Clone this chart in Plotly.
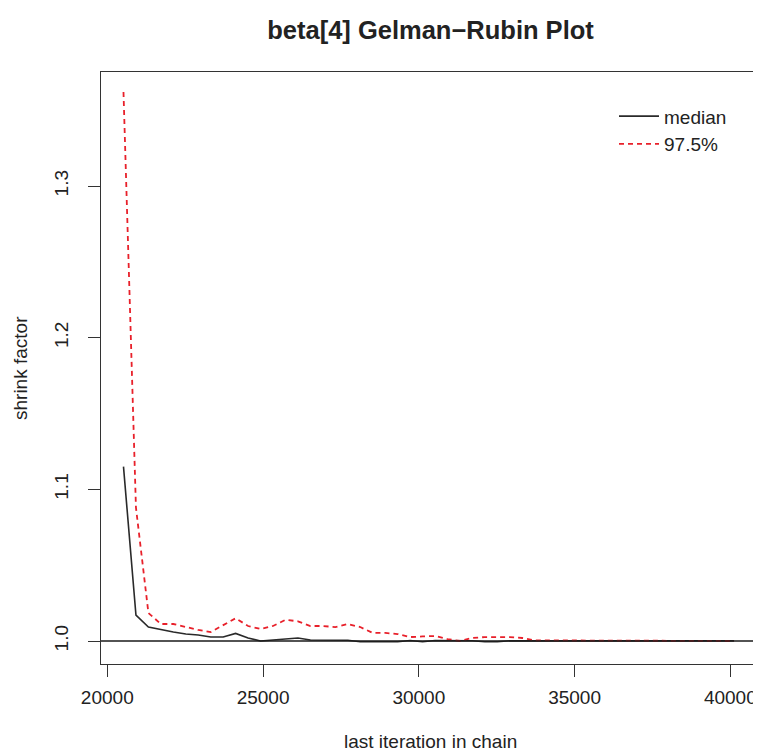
import plotly.graph_objects as go

# last iteration in chain (bin end points)
last_iter = [20520, 20920, 21320, 21720, 22120, 22520, 22920, 23320, 23720, 24120,
             24520, 24920, 25320, 25720, 26120, 26520, 26920, 27320, 27720, 28120,
             28520, 28920, 29320, 29720, 30120, 30520, 30920, 31320, 31720, 32120,
             32520, 32920, 33320, 33720, 34120, 34520, 34920, 35320, 35720, 36120,
             36520, 36920, 37320, 37720, 38120, 38520, 38920, 39320, 39720, 40120]

median_sf = [1.115, 1.0171, 1.0092, 1.0073, 1.0059, 1.0046, 1.0040, 1.0026, 1.0026, 1.0050,
             1.0020, 1.0000, 1.0007, 1.0013, 1.0020, 1.0007, 1.0007, 1.0007, 1.0005, 0.9995,
             0.9995, 0.9995, 0.9995, 1.0003, 0.9995, 1.0003, 1.0002, 1.0002, 1.0002, 0.9995,
             0.9995, 1.0002, 1.0001, 1.0001, 1.0001, 1.0001, 1.0001, 1.0001, 1.0001, 1.0001,
             1.0001, 1.0001, 1.0001, 1.0001, 1.0001, 1.0001, 1.0001, 1.0001, 1.0001, 1.0001]

upper_sf = [1.362, 1.088, 1.0185, 1.0112, 1.0112, 1.0092, 1.0073, 1.0059, 1.0105, 1.0150,
            1.0099, 1.0079, 1.0099, 1.0140, 1.0130, 1.0099, 1.0099, 1.0092, 1.0112, 1.0092,
            1.0053, 1.0053, 1.0046, 1.0026, 1.0030, 1.0033, 1.0013, 1.0000, 1.0020, 1.0026,
            1.0026, 1.0026, 1.0020, 1.0004, 1.0004, 1.0004, 1.0004, 1.0004, 1.0004, 1.0004,
            1.0003, 1.0003, 1.0000, 1.0004, 1.0000, 1.0000, 1.0000, 1.0000, 1.0004, 1.0000]

x_ticks = [20000, 25000, 30000, 35000, 40000]
x_tick_text = ["20000", "25000", "30000", "35000", "40000"]
y_ticks = [1.0, 1.1, 1.2, 1.3]
y_tick_text = ["1.0", "1.1", "1.2", "1.3"]

FONT = "Liberation Sans, Arial, sans-serif"
TXT = "#222222"

# page has an 8px body margin; figure is sized to fit the window
W, H = 753, 746
ML, MT, MR, MB = 93, 64, 1, 90
PW = W - ML - MR
PH = H - MT - MB

fig = go.Figure()
fig.add_trace(go.Scatter(x=last_iter, y=median_sf, mode="lines", name="median",
                         line=dict(color="#2a2a2a", width=1.6)))
fig.add_trace(go.Scatter(x=last_iter, y=upper_sf, mode="lines", name="97.5%",
                         line=dict(color="#e8202a", width=1.8, dash="5px,4px")))

fig.add_hline(y=1.0, line=dict(color="#1a1a1a", width=1.6), layer="above")

fig.update_layout(
    width=W, height=H,
    margin=dict(l=ML, r=MR, t=MT, b=MB),
    paper_bgcolor="white", plot_bgcolor="white",
    font=dict(family=FONT, size=19, color=TXT),
    title=dict(text="<b>beta[4] Gelman\u2212Rubin Plot</b>", x=0.5, xref="paper",
               xanchor="center", y=1 - 22 / H, yref="container", yanchor="middle",
               font=dict(family=FONT, size=25.5, color=TXT)),
    showlegend=True,
    legend=dict(x=(614 - 101) / PW, y=1 + 2 / PH - 0.046, xanchor="left", yanchor="top",
                bgcolor="rgba(255,255,255,0)", borderwidth=0, itemwidth=40,
                font=dict(family=FONT, size=19, color=TXT)),
    xaxis=dict(range=[19798, 40953], tickvals=x_ticks, ticktext=x_tick_text,
               ticks="outside", ticklen=12,
               tickcolor="#333333", tickwidth=1.3, showgrid=False, zeroline=False,
               showline=True, linecolor="#333333", linewidth=1.3, mirror=True,
               tickfont=dict(size=19), ticklabelstandoff=4),
    yaxis=dict(range=[0.98484, 1.3752], tickvals=y_ticks, ticktext=y_tick_text,
               ticks="outside", ticklen=12, tickcolor="#333333", tickwidth=1.3,
               showgrid=False, zeroline=False, showline=True, linecolor="#333333",
               linewidth=1.3, mirror=True, tickangle=-90, tickfont=dict(size=19),
               ticklabelstandoff=12),
    annotations=[
        dict(text="last iteration in chain", xref="paper", yref="paper", x=0.5,
             y=-(741 - 664) / PH, xanchor="center", yanchor="middle", showarrow=False,
             font=dict(family=FONT, size=19, color=TXT)),
        dict(text="shrink factor", xref="paper", yref="paper", x=-(101 - 20) / PW,
             y=0.5, xanchor="center", yanchor="middle", textangle=-90, showarrow=False,
             font=dict(family=FONT, size=19, color=TXT)),
    ],
)

fig.write_html("out.html")
